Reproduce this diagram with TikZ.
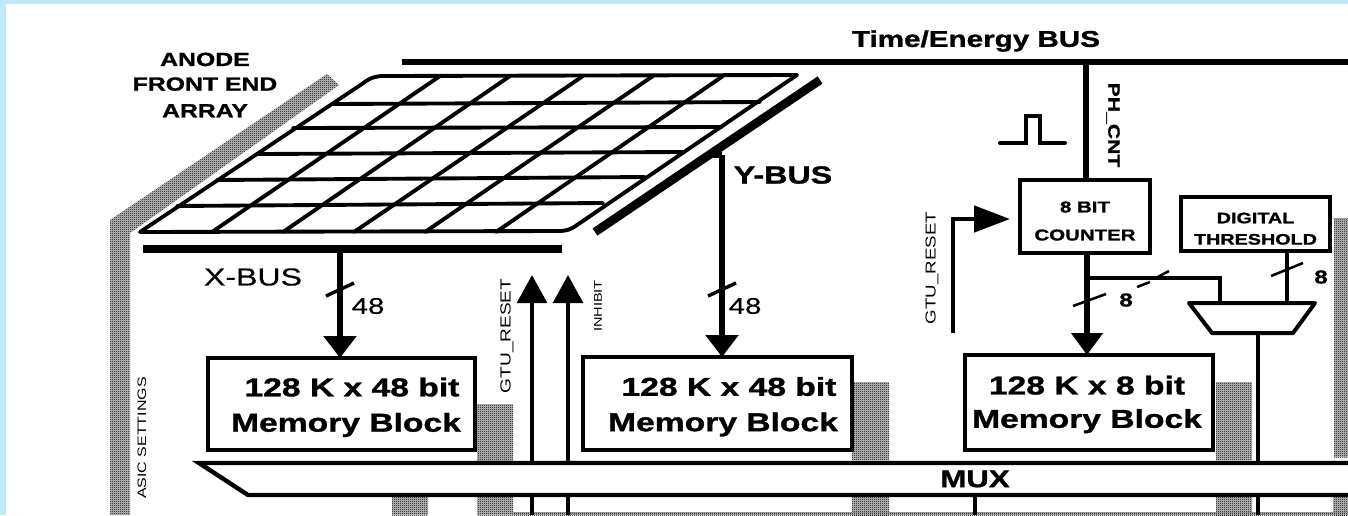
\documentclass[tikz,border=0pt]{standalone}
\usepackage{fontspec}
\setmainfont{Liberation Sans}
\newfontfamily\wfont[FakeStretch=1.3,UprightFeatures={FakeBold=0.3},BoldFeatures={FakeBold=1.2}]{Liberation Sans}
\newfontfamily\nfont[FakeStretch=1.3]{Liberation Sans}
\usetikzlibrary{arrows.meta,patterns}
\definecolor{skyband}{HTML}{BDE9FF}
\pgfdeclarepatternformonly{dith}{\pgfqpoint{0pt}{0pt}}{\pgfqpoint{1.5pt}{1.5pt}}{\pgfqpoint{1.5pt}{1.5pt}}{%
  \pgfpathrectangle{\pgfqpoint{0pt}{0pt}}{\pgfqpoint{.75pt}{.75pt}}%
  \pgfpathrectangle{\pgfqpoint{.75pt}{.75pt}}{\pgfqpoint{.75pt}{.75pt}}%
  \pgfusepath{fill}}
\tikzset{
  x=0.75pt,y=-0.75pt,
  dither/.style={preaction={fill=black!25},pattern=dith,pattern color=black},
  bbox/.style={draw,line width=3.6pt,inner sep=0pt,outer sep=0pt,fill=white,align=center},
  membox/.style={bbox,font=\wfont\bfseries\fontsize{19.4}{26.5}\selectfont},
  smallbox/.style={bbox,line width=3pt,font=\wfont\bfseries\fontsize{11.8}{16.5}\selectfont},
  lbl/.style={inner sep=0pt,outer sep=0pt,align=center},
  boldlbl/.style={lbl,font=\wfont\bfseries\fontsize{14.3}{18.5}\selectfont},
  buslbl/.style={lbl,font=\wfont\fontsize{18.5}{20}\selectfont},
  numlbl/.style={lbl,font=\wfont\fontsize{17}{18}\selectfont},
  eightlbl/.style={lbl,font=\wfont\bfseries\fontsize{14}{15}\selectfont},
  sidelbl/.style={lbl,font=\nfont\fontsize{9.2}{11}\selectfont},
  gridline/.style={line width=2.9pt,line cap=round,line join=round},
  wire/.style={line width=5pt},
  thin wire/.style={line width=3.6pt},
  tick/.style={line width=1.9pt},
  bar/.style={line width=6.5pt},
  bigarrow/.style={-{Triangle[length=16.5pt,width=24pt]}},
  busline/.style={line width=3.3pt,line join=miter}
}
\begin{document}
\begin{tikzpicture}
\useasboundingbox (0,0) rectangle (1348,515);
\fill[skyband] (0,0) rectangle (1348,515);
\fill[white] (6,4) rectangle (1348,515);

% dithered shading
\fill[dither] (110,515) -- (110,220) -- (327,74) -- (339,85) -- (130,233) -- (130,515) -- cycle;
\fill[dither] (477,404) rectangle (513,462);
\fill[dither] (852,382) rectangle (889,460);
\fill[dither] (1216,382) rectangle (1252,460);
\fill[dither] (1334,218) rectangle (1348,457);
\fill[dither] (392,497) rectangle (428,515);
\fill[dither] (477,497) rectangle (513,515);
\fill[dither] (852,497) rectangle (889,515);
\fill[dither] (1216,497) rectangle (1252,515);
\fill[dither] (1333,497) rectangle (1348,515);
\fill[dither] (513,512) rectangle (1348,515);

% detector grid
\draw[gridline] (140,232) -- (362,84) .. controls (371,77) and (376,76) .. (385,76) -- (797,75) -- (577,225) .. controls (570,230) and (566,231) .. (558,231) -- cycle;
\foreach \ya/\xa/\yb/\xb in {104/333/102/760,128/293/127/722,154/258/152/683,180/217/177/645,206/177/203/603}
  \draw[gridline] (\xa,\ya) -- (\xb,\yb);
\foreach \xa/\xb in {212/440,283/510,354/583,425/653,496/723}
  \draw[gridline] (\xa,232) -- (\xb,76);

% buses
\coordinate (tebL) at (402,62);
\coordinate (tebR) at (1348,62);
\draw[line width=4.5pt] (tebL) -- (tebR);
\coordinate (xbL) at (143,249);
\coordinate (xbR) at (562,249);
\draw[bar] (xbL) -- (xbR);
\coordinate (ybL) at (595,232);
\coordinate (ybR) at (820,80);
\draw[bar] (ybL) -- (ybR);

% memory blocks
\node[membox,minimum width=200.25pt,minimum height=69pt] (memA) at (341.5,404) {\hspace*{15.75pt}\rule{0pt}{19pt}128 K x 48 bit\\\hspace*{6.75pt}Memory Block};
\node[membox,minimum width=201.75pt,minimum height=69.75pt] (memB) at (717.5,403.5) {\hspace*{17.25pt}\rule{0pt}{19pt}128 K x 48 bit\\\hspace*{8.25pt}Memory Block};
\node[membox,font=\wfont\bfseries\fontsize{19.4}{25}\selectfont,minimum width=186pt,minimum height=71.25pt] (memC) at (1089,402.5) {\rule{0pt}{17pt}128 K x 8 bit\hspace*{3pt}\\Memory Block\hspace*{3pt}};

% counter and threshold
\node[smallbox,minimum width=97.5pt,minimum height=54.75pt] (cnt) at (1085,216.5) {\rule{0pt}{15pt}8 BIT\\[4.5pt]COUNTER};
\node[smallbox,font=\wfont\bfseries\fontsize{11.4}{16}\selectfont,minimum width=111.75pt,minimum height=40.5pt] (thr) at (1255.5,224) {\rule{0pt}{15pt}DIGITAL\\THRESHOLD};
\coordinate (mTL) at (1189,303);
\coordinate (mTR) at (1315,303);
\coordinate (mBR) at (1293,333);
\coordinate (mBL) at (1212,333);
\draw[line width=3pt,line join=round] (mTL) -- (mTR) -- (mBR) -- (mBL) -- cycle;

% MUX bus
\coordinate (busTL) at (199,463);
\coordinate (busTR) at (1348,463);
\coordinate (busBL) at (248,495);
\coordinate (busBR) at (1348,495);
\draw[busline] (busTR) -- (busTL) -- (busBL) -- (busBR);
\node[lbl,font=\wfont\bfseries\fontsize{18}{20}\selectfont] (muxlbl) at (975,479) {MUX};

% drops from X and Y bus
\coordinate (xdrop) at (340,249);
\coordinate (ydrop) at (722,155);
\draw[wire,bigarrow] (xdrop) -- (xdrop |- memA.north);
\draw[wire,bigarrow] (ydrop) -- (ydrop |- memB.north);
\coordinate (yjoin) at (713,155);
\draw[wire] (yjoin) -- (ydrop);
\draw[tick,line width=2.6pt] (326,296) -- (354,283);
\draw[tick,line width=2.6pt] (708,296) -- (736,283);
\node[numlbl] (n48a) at (368,306) {48};
\node[numlbl] (n48b) at (745,306) {48};
\node[buslbl] (xbus) at (253,277) {X-BUS};
\node[buslbl,font=\wfont\bfseries\fontsize{18.6}{20}\selectfont] (ybus) at (783,175) {Y-BUS};

% GTU_RESET and INHIBIT
\coordinate (gtuA) at (532,463);
\coordinate (gtuAt) at (532,275);
\coordinate (inhA) at (568,463);
\coordinate (inhAt) at (568,275);
\draw[thin wire,-{Triangle[length=21pt,width=22pt]}] (gtuA) -- (gtuAt);
\draw[thin wire,-{Triangle[length=21pt,width=22pt]}] (inhA) -- (inhAt);
\coordinate (gtuB) at (532,495);
\coordinate (gtuBe) at (532,515);
\coordinate (inhB) at (568,495);
\coordinate (inhBe) at (568,515);
\coordinate (muxO) at (975,495);
\coordinate (muxOe) at (975,515);
\coordinate (sumB) at (1258,495);
\coordinate (sumBe) at (1258,515);
\draw[thin wire] (gtuB) -- (gtuBe);
\draw[thin wire] (inhB) -- (inhBe);
\draw[thin wire] (muxO) -- (muxOe);
\draw[thin wire] (sumB) -- (sumBe);
\node[sidelbl,rotate=90,font=\nfont\fontsize{11}{12}\selectfont] (lgtuA) at (507,336) {GTU\_RESET};
\node[sidelbl,rotate=90,font=\nfont\fontsize{8.4}{9}\selectfont] (linh) at (598,306) {INHIBIT};
\node[sidelbl,rotate=90] (lasic) at (142,438) {ASIC SETTINGS};

% top right wiring
\node[lbl,font=\wfont\bfseries\fontsize{17.1}{18}\selectfont] (teb) at (976,41) {Time/Energy BUS};
\coordinate (phT) at (1086,62);
\draw[wire] (phT) -- (phT |- cnt.north);
\node[lbl,rotate=-90,font=\wfont\bfseries\fontsize{12.2}{15}\selectfont] (lph) at (1113,125) {PH\_CNT};
\draw[line width=3pt,line cap=round] (1000,143) -- (1026,143) -- (1026,116) -- (1040,116) -- (1040,143) -- (1065,143);
\coordinate (gtuS) at (953,333);
\coordinate (gtuC) at (953,219);
\coordinate (gtuE) at (1010,219);
\draw[line width=3.6pt,-{Triangle[length=27pt,width=19.5pt]}] (gtuS) -- (gtuC) -- (gtuE);
\node[lbl,rotate=90,font=\nfont\fontsize{10.8}{12}\selectfont] (lgtuB) at (932,268) {GTU\_RESET};
\coordinate (cntD) at (1087,253);
\draw[wire,-{Triangle[length=16.5pt,width=23pt]}] (cntD) -- (cntD |- memC.north);
\draw[tick] (1073,306) -- (1106,294);
\node[eightlbl] (n8a) at (1126,300) {8};
\coordinate (brS) at (1087,278);
\coordinate (brC) at (1220,278);
\draw[line width=3pt,line join=miter] (brS) -- (brC) -- (brC |- mTL);
\draw[tick] (1137,287) -- (1150,282);
\draw[tick] (1156,278) -- (1169,271);
\coordinate (thD) at (1287,251);
\draw[thin wire] (thD) -- (thD |- mTL);
\draw[tick] (1271,276) -- (1303,263);
\node[eightlbl] (n8b) at (1321,277) {8};
\coordinate (muxOut) at (1258,333);
\draw[thin wire] (muxOut) -- (muxOut |- busTL);

\node[boldlbl] (anode) at (205,85) {ANODE\\FRONT END\\[1.5pt]ARRAY};
\end{tikzpicture}
\end{document}
